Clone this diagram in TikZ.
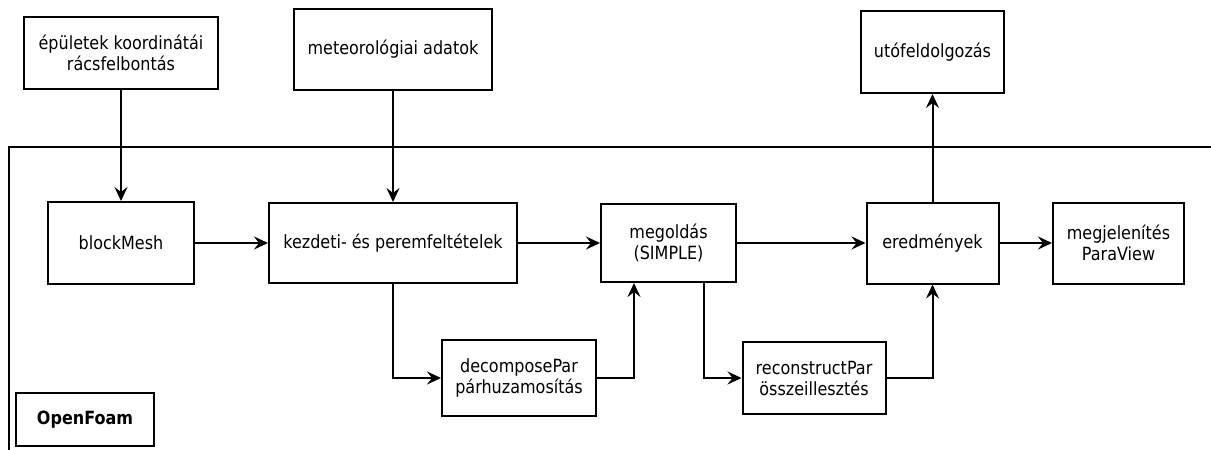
\documentclass[tikz,border=0pt]{standalone}
\usepackage{fontspec}
\setmainfont{DejaVu Sans}[FakeStretch=0.88]
\usetikzlibrary{arrows.meta,calc}
\begin{document}
\begin{tikzpicture}[x=1pt,y=-1pt,
  box/.style={draw,line width=2pt,align=center,inner sep=2pt,font=\fontsize{18.2}{21}\selectfont},
  arr/.style={line width=2pt,-{Stealth[length=14pt,width=13pt,inset=5pt]}},
  ln/.style={line width=2pt}]
\useasboundingbox (0,0) rectangle (1211,450);
\clip (0,0) rectangle (1211,450);
\fill[white] (0,0) rectangle (1211,450);
% frame
\coordinate (fa) at (9,470);
\coordinate (fb) at (9,147);
\coordinate (fc) at (1230,147);
\draw[ln] (fa) -- (fb) -- (fc);
% nodes
\node[box,minimum width=194pt,minimum height=72pt] (ep) at (121,53) {épületek koordinátái\\rácsfelbontás};
\node[box,minimum width=198pt,minimum height=81pt] (met) at (393,49.5) {meteorológiai adatok};
\node[box,minimum width=143pt,minimum height=82pt] (uto) at (932.5,52) {utófeldolgozás};
\node[box,minimum width=146pt,minimum height=82pt] (bm) at (121,243) {blockMesh};
\node[box,minimum width=248pt,minimum height=80pt] (kez) at (393,243) {kezdeti- és peremfeltételek};
\node[box,minimum width=135pt,minimum height=78pt] (meg) at (668.5,243) {megoldás\\(SIMPLE)};
\node[box,minimum width=132pt,minimum height=81pt] (ered) at (932.5,243) {eredmények};
\node[box,minimum width=131pt,minimum height=81pt] (disp) at (1118.5,243) {megjelenítés\\ParaView};
\node[box,minimum width=154pt,minimum height=76pt] (dec) at (519,378) {decomposePar\\párhuzamosítás};
\node[box,minimum width=143pt,minimum height=72pt] (rec) at (814,378) {reconstructPar\\összeillesztés};
\node[box,minimum width=138pt,minimum height=53pt,font=\fontsize{18.2}{21}\selectfont\bfseries] (of) at (85,419.5) {OpenFoam};
% connectors
\draw[arr] (ep) -- (bm);
\draw[arr] (met) -- (kez);
\draw[arr] (bm) -- (kez);
\draw[arr] (kez) -- (meg);
\draw[arr] (meg) -- (ered);
\draw[arr] (ered) -- (disp);
\draw[arr] (ered) -- (uto);
\draw[arr] (kez.south) |- (dec.west);
\draw[arr] (dec.east) -| ([xshift=-34.5pt]meg.south);
\draw[arr] ([xshift=35.5pt]meg.south) |- (rec.west);
\draw[arr] (rec.east) -| (ered.south);
\end{tikzpicture}
\end{document}
